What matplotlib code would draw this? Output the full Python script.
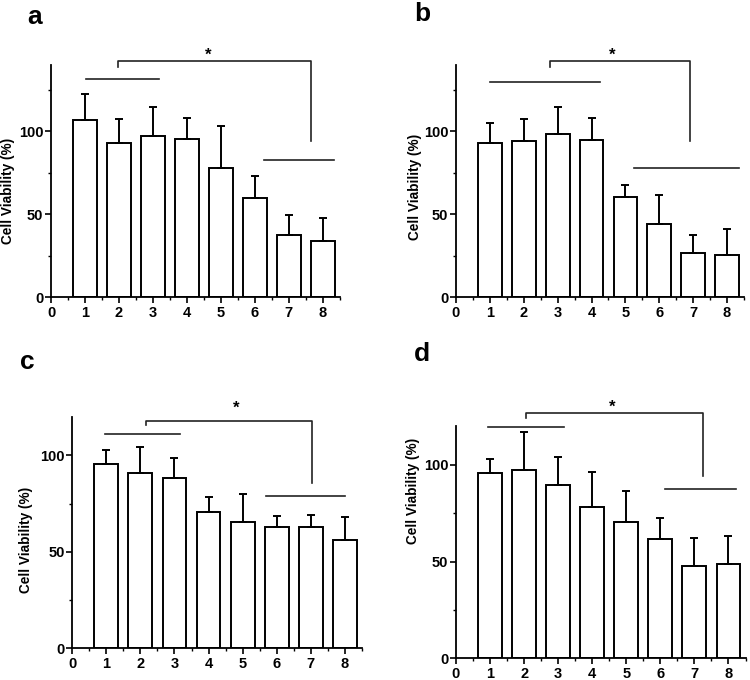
import numpy as np
import matplotlib.pyplot as plt
from matplotlib.ticker import MultipleLocator

plt.rcParams['font.family'] = ['Liberation Sans', 'DejaVu Sans']
plt.rcParams['font.weight'] = 'bold'

groups = [1, 2, 3, 4, 5, 6, 7, 8]

# mean and upper error for each panel
mean_a = [106.6, 93.0, 97.2, 95.6, 78.0, 59.5, 37.7, 33.7]
err_a = [15.9, 14.4, 17.6, 12.6, 25.2, 13.4, 11.8, 14.2]
mean_b = [93.2, 94.0, 98.2, 94.8, 60.3, 44.3, 26.8, 25.2]
err_b = [11.6, 13.4, 16.6, 13.4, 7.5, 17.2, 10.8, 15.8]
mean_c = [95.5, 90.6, 88.5, 70.5, 65.5, 62.6, 62.6, 56.1]
err_c = [7.4, 13.9, 10.1, 8.1, 14.4, 5.8, 6.5, 11.7]
mean_d = [95.7, 97.1, 89.3, 78.4, 70.5, 61.7, 47.8, 48.7]
err_d = [7.4, 19.8, 14.5, 18.0, 15.9, 10.7, 14.5, 14.3]

ylims = [140, 140, 120, 120]

# significance annotations: (line1 y, x0, x1), (line2 y, x0, x1), bracket (y, x0, x1, drop y), star (x, y)
sig_a = dict(l1=(131.5, 1.03, 3.17), l2=(82.8, 6.27, 8.33), br=(142.3, 1.98, 7.64, 94.4, 139), star=(4.63, 146))
sig_b = dict(l1=(129.5, 1.0, 4.26), l2=(78.0, 5.25, 8.36), br=(142.3, 2.78, 6.9, 94.4, 139), star=(4.62, 146))
sig_c = dict(l1=(110.8, 0.95, 3.15), l2=(79.1, 5.68, 8.0), br=(118.0, 2.17, 7.05, 85.8, 115.5), star=(4.81, 124.5))
sig_d = dict(l1=(119.5, 0.95, 3.16), l2=(87.7, 6.13, 8.21), br=(126.8, 2.06, 7.24, 94.1, 124), star=(4.59, 129.5))

fig = plt.figure(figsize=(7.5, 6.8), dpi=100)
rects = [[0.068, 0.5632, 0.385, 0.3412],
         [0.608, 0.5632, 0.384, 0.3412],
         [0.0964, 0.0466, 0.386, 0.3406],
         [0.608, 0.0319, 0.386, 0.3416]]
labels = ['a', 'b', 'c', 'd']
label_pos = [(0.036, 0.993), (0.552, 0.997), (0.027, 0.486), (0.552, 0.497)]
ylabel_pos = [(-0.125, 0.457), (-0.118, 0.474), (-0.136, 0.468), (-0.125, 0.72)]
means = [mean_a, mean_b, mean_c, mean_d]
errs = [err_a, err_b, err_c, err_d]
sigs = [sig_a, sig_b, sig_c, sig_d]
lc = '#222222'

for i in range(4):
    ax = fig.add_axes(rects[i])
    ax.bar(groups, means[i], width=0.7, color='white', edgecolor='black', linewidth=1.4,
           yerr=[np.zeros(8), errs[i]], capsize=3,
           error_kw=dict(ecolor='black', elinewidth=1.4, capthick=1.4))
    ax.set_xlim(0, 8.5)
    ax.set_ylim(0, ylims[i])
    ax.set_xticks(range(0, 9))
    ax.set_yticks([0, 50, 100])
    ax.xaxis.set_minor_locator(MultipleLocator(0.5))
    ax.yaxis.set_minor_locator(MultipleLocator(25))
    ax.spines['top'].set_visible(False)
    ax.spines['right'].set_visible(False)
    ax.spines['left'].set_linewidth(1.3)
    ax.spines['bottom'].set_linewidth(1.3)
    ax.tick_params(which='major', length=4, width=1.2, labelsize=10.5)
    ax.tick_params(axis='y', which='major', pad=1.5)
    ax.tick_params(axis='x', which='major', pad=2.5)
    ax.tick_params(which='minor', length=2, width=1.0)
    for t in ax.get_xticklabels() + ax.get_yticklabels():
        t.set_fontweight('bold')
    ax.set_ylabel('Cell Viability (%)', fontsize=9.8, fontweight='bold')
    ax.yaxis.set_label_coords(*ylabel_pos[i])

    s = sigs[i]
    y, x0, x1 = s['l1']
    ax.plot([x0, x1], [y, y], color=lc, lw=1.2, clip_on=False)
    y, x0, x1 = s['l2']
    ax.plot([x0, x1], [y, y], color=lc, lw=1.2, clip_on=False)
    y, x0, x1, ydrop, yl = s['br']
    ax.plot([x0, x0, x1, x1], [yl, y, y, ydrop], color=lc, lw=1.2, clip_on=False)
    sx, sy = s['star']
    ax.text(sx, sy, '*', ha='center', va='center', fontsize=12, fontweight='bold', clip_on=False)

    fig.text(label_pos[i][0], label_pos[i][1], labels[i], fontsize=19, fontweight='bold',
             ha='left', va='top')

plt.savefig('out.png', dpi=100)
